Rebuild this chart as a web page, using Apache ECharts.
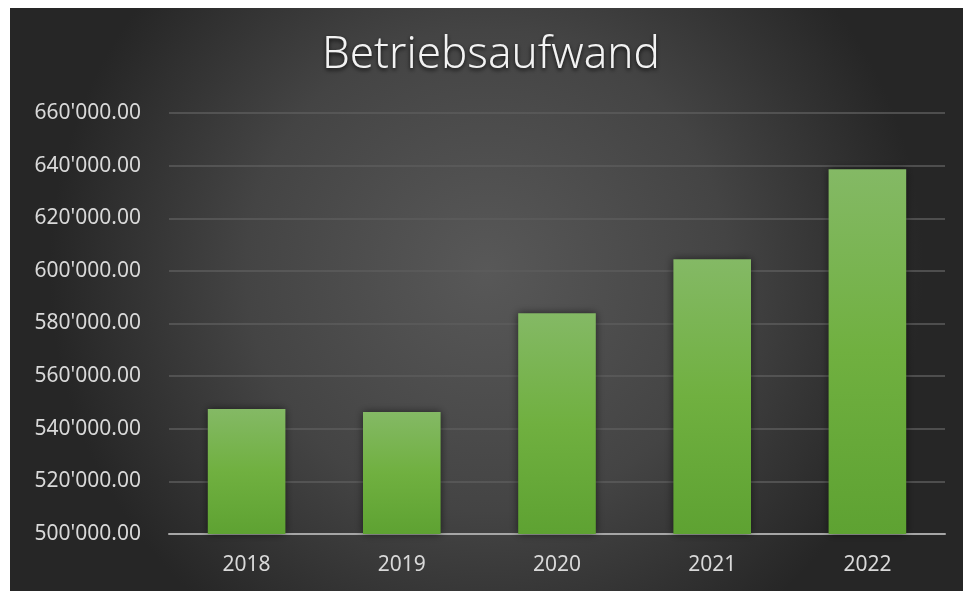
<!DOCTYPE html>
<html>
<head>
<meta charset="utf-8">
<script src="https://cdn.jsdelivr.net/npm/echarts@6/dist/echarts.min.js"></script>
<style>
  html, body { margin: 0; padding: 0; background: #fff; }
  #chart { width: 964px; height: 591px; }
</style>
</head>
<body>
<div id="chart"></div>
<script>
const years = ['2018', '2019', '2020', '2021', '2022'];
const aufwand = [547500, 546400, 583900, 604400, 638600];
const yMin = 500000;
const yMax = 660000;
const yStep = 20000;

// 660000 -> "660'000.00"
function chf(v) {
  const s = Math.round(v).toString().replace(/\B(?=(\d{3})+(?!\d))/g, "'");
  return s + '.00';
}

const chart = echarts.init(document.getElementById('chart'));
const option = {
  backgroundColor: '#ffffff',
  animation: false,
  graphic: [{
    type: 'rect',
    z: -10,
    shape: { x: 10, y: 8, width: 953, height: 583 },
    style: {
      fill: new echarts.graphic.RadialGradient(0.5, 0.45, 0.75, [
        { offset: 0, color: '#585858' },
        { offset: 0.55, color: '#444444' },
        { offset: 1, color: '#262626' }
      ])
    }
  }],
  title: {
    text: 'Betriebsaufwand',
    left: 317,
    top: 28,
    textStyle: {
      color: '#f2f2f2',
      fontFamily: 'Noto Sans',
      fontWeight: 300,
      fontSize: 44,
      textShadowColor: 'rgba(0,0,0,0.8)',
      textShadowBlur: 4,
      textShadowOffsetY: 2
    }
  },
  grid: { left: 169, right: 19, top: 113, bottom: 57 },
  xAxis: {
    type: 'category',
    data: years,
    axisTick: { show: false },
    axisLine: { lineStyle: { color: '#a6a6a6', width: 2 } },
    axisLabel: { color: '#d9d9d9', fontSize: 21, fontFamily: 'Noto Sans', margin: 21 }
  },
  yAxis: {
    type: 'value',
    min: yMin,
    max: yMax,
    interval: yStep,
    axisLine: { show: false },
    axisTick: { show: false },
    splitLine: { lineStyle: { color: '#5c5c5c', width: 1.5 } },
    axisLabel: {
      color: '#d9d9d9',
      fontSize: 21,
      fontFamily: 'Noto Sans',
      margin: 28,
      formatter: chf
    }
  },
  series: [{
    type: 'bar',
    data: aufwand,
    barWidth: '50%',
    itemStyle: {
      color: new echarts.graphic.LinearGradient(0, 0, 0, 1, [
        { offset: 0, color: '#84b965' },
        { offset: 0.5, color: '#70b040' },
        { offset: 1, color: '#5ea232' }
      ]),
      shadowColor: 'rgba(0,0,0,0.55)',
      shadowBlur: 8
    }
  }]
};
chart.setOption(option);
</script>
</body>
</html>
